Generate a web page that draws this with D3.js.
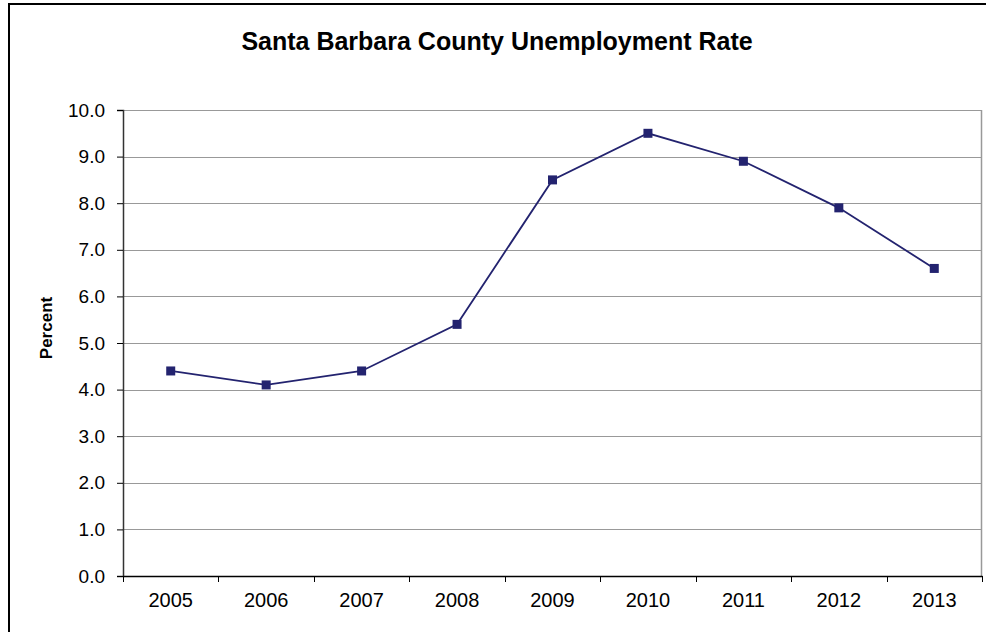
<!DOCTYPE html>
<html>
<head>
<meta charset="utf-8">
<script src="https://cdn.jsdelivr.net/npm/d3@7"></script>
<style>
  body { margin: 0; background: #fff; }
  svg { display: block; font-family: Arial, "Liberation Sans", sans-serif; }
</style>
</head>
<body>
<div id="chart"></div>
<script>
// data
var years = ['2005', '2006', '2007', '2008', '2009', '2010', '2011', '2012', '2013'];
var rates = [4.4, 4.1, 4.4, 5.4, 8.5, 9.5, 8.9, 7.9, 6.6];
var yTicks = [0, 1, 2, 3, 4, 5, 6, 7, 8, 9, 10];

var svgWidth = 986, svgHeight = 632;
var margin = {top: 110, right: 4, bottom: 56, left: 123};
var width = 982 - margin.left;
var height = 576 - margin.top;

var svg = d3.select('#chart').append('svg')
    .attr('width', svgWidth).attr('height', svgHeight);

// outer chart border (runs past the right / bottom edge)
svg.append('rect')
    .attr('x', 9).attr('y', 4)
    .attr('width', 1000).attr('height', 700)
    .attr('fill', 'none')
    .attr('stroke', '#000').attr('stroke-width', 2);

svg.append('text')
    .attr('x', 497).attr('y', 50)
    .attr('text-anchor', 'middle')
    .style('font-size', '25px').style('font-weight', 'bold')
    .text('Santa Barbara County Unemployment Rate');

var g = svg.append('g')
    .attr('transform', 'translate(' + margin.left + ' ' + margin.top + ')');

var x = d3.scaleBand().domain(years).range([0, width]);
var y = d3.scaleLinear().domain([0, 10]).range([height, 0]);

// gridlines
g.selectAll('.grid').data(yTicks.slice(1)).enter().append('line')
    .attr('class', 'grid')
    .attr('x1', 0).attr('x2', width)
    .attr('y1', function(d) { return Math.round(y(d)) + 0.5; })
    .attr('y2', function(d) { return Math.round(y(d)) + 0.5; })
    .attr('stroke', '#999').attr('stroke-width', 1);

// plot area right border
g.append('line')
    .attr('x1', width - 0.5).attr('x2', width - 0.5)
    .attr('y1', 0).attr('y2', height)
    .attr('stroke', '#999').attr('stroke-width', 1.5);

// Y axis
var yAxis = g.append('g')
    .call(d3.axisLeft(y).tickValues(yTicks).tickSize(6).tickPadding(12)
        .tickFormat(d3.format('.1f')));
yAxis.selectAll('text').style('font-size', '19px').attr('fill', '#000');
yAxis.select('.domain').attr('stroke', '#333').attr('stroke-width', 1.5);
yAxis.selectAll('.tick line').attr('stroke', '#000');

// X axis, ticks between categories
var xAxis = g.append('g')
    .attr('transform', 'translate(0 ' + height + ')')
    .call(d3.axisBottom(x).tickSize(0).tickPadding(17));
xAxis.selectAll('text').style('font-size', '20px').attr('fill', '#000');
xAxis.select('.domain').attr('stroke', '#000').attr('stroke-width', 1.5);

var bounds = years.map(function(d) { return x(d); }).concat([width]);
xAxis.selectAll('.sep').data(bounds).enter().append('line')
    .attr('class', 'sep')
    .attr('x1', function(d) { return Math.round(d) + 0.5; })
    .attr('x2', function(d) { return Math.round(d) + 0.5; })
    .attr('y1', 0).attr('y2', 6)
    .attr('stroke', '#000');

svg.append('text')
    .attr('transform', 'translate(52 ' + 328 + ') rotate(-90)')
    .attr('text-anchor', 'middle')
    .style('font-size', '17px').style('font-weight', 'bold')
    .text('Percent');

// line + markers
var line = d3.line()
    .x(function(d, i) { return x(years[i]) + x.bandwidth() / 2; })
    .y(function(d) { return y(d); });

g.append('path')
    .datum(rates)
    .attr('d', line)
    .attr('fill', 'none')
    .attr('stroke', '#23236f').attr('stroke-width', 1.8);

g.selectAll('.pt').data(rates).enter().append('rect')
    .attr('class', 'pt')
    .attr('x', function(d, i) { return x(years[i]) + x.bandwidth() / 2 - 4.5; })
    .attr('y', function(d) { return y(d) - 4.5; })
    .attr('width', 9).attr('height', 9)
    .attr('fill', '#23236f');
</script>
</body>
</html>
